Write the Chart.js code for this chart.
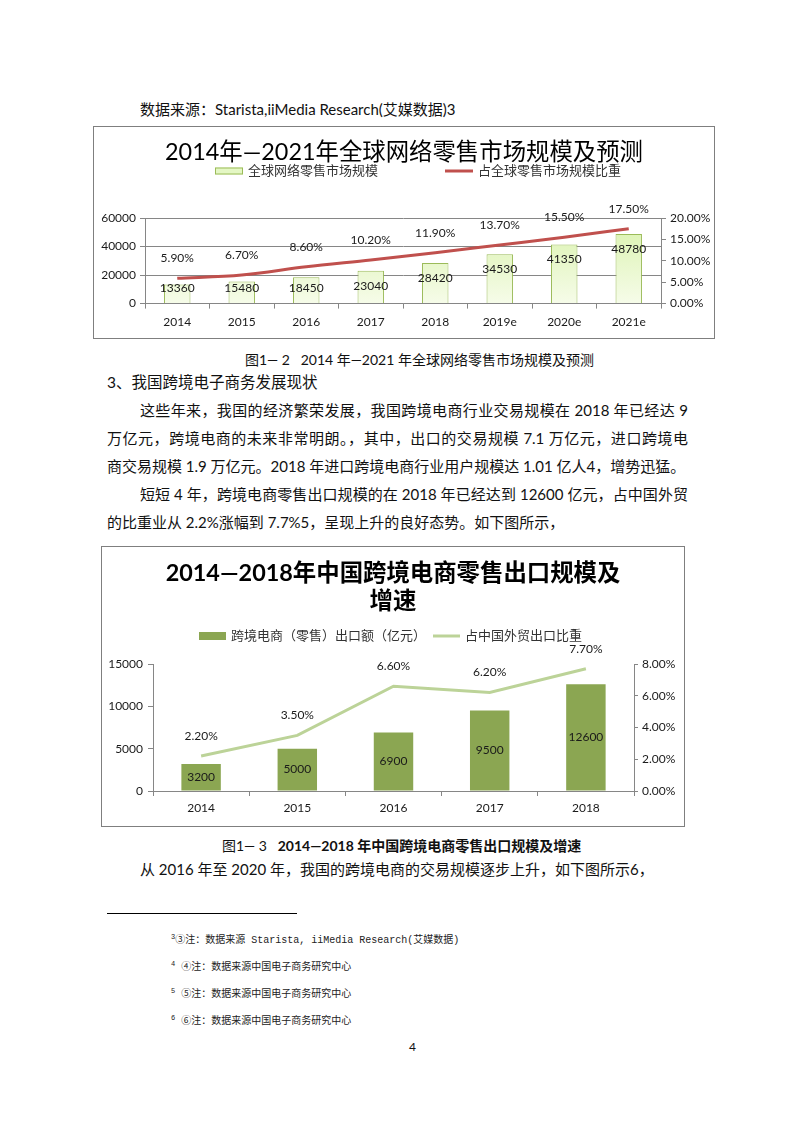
<!DOCTYPE html>
<html lang="zh-CN">
<head>
<meta charset="utf-8">
<script src="https://cdn.jsdelivr.net/npm/chart.js@4.4.1/dist/chart.umd.min.js"></script>
<style>
html, body { margin: 0; padding: 0; background: #fff; }
body { width: 793px; height: 1122px; position: relative; overflow: hidden;
       font-family: Lato, "Noto Sans CJK SC", sans-serif; color: #111; }
.ln { position: absolute; font-size: 15px; line-height: 20px; white-space: nowrap; }
.jus { white-space: normal; text-align: justify; text-align-last: justify; }
.cap { font-size: 14px; }
.fn { position: absolute; left: 171px; font-size: 10px; line-height: 14px; white-space: nowrap;
      font-family: "Liberation Mono", "Noto Sans CJK SC", monospace; color: #222; }
.fn sup { font-size: 7px; vertical-align: 4px; }
.caja { position: absolute; border: 1px solid #7f7f7f; }
.caja canvas { display: block; }
.regla { position: absolute; left: 107px; top: 913px; width: 190px; height: 1px; background: #000; }
</style>
</head>
<body>

<div class="ln" style="left:140px; top:99px;">数据来源：Starista,iiMedia Research(艾媒数据)3</div>

<div class="caja" style="left:93px; top:126px; width:620px; height:211px;">
  <canvas id="chartGlobal"></canvas>
</div>

<div class="ln cap" style="left:245px; top:350px;">图1— 2&nbsp;&nbsp;&nbsp;2014 年—2021 年全球网络零售市场规模及预测</div>
<div class="ln" style="left:107px; top:372px; font-size:15.5px;">3、我国跨境电子商务发展现状</div>
<div class="ln jus" style="left:140px; top:400px; width:548px;">这些年来，我国的经济繁荣发展，我国跨境电商行业交易规模在 2018 年已经达 9</div>
<div class="ln jus" style="left:107px; top:428px; width:581px;">万亿元，跨境电商的未来非常明朗。，其中，出口的交易规模 7.1 万亿元，进口跨境电</div>
<div class="ln" style="left:107px; top:456px;">商交易规模 1.9 万亿元。2018 年进口跨境电商行业用户规模达 1.01 亿人4，增势迅猛。</div>
<div class="ln jus" style="left:140px; top:484px; width:548px;">短短 4 年，跨境电商零售出口规模的在 2018 年已经达到 12600 亿元，占中国外贸</div>
<div class="ln" style="left:107px; top:512px;">的比重业从 2.2%涨幅到 7.7%5，呈现上升的良好态势。如下图所示，</div>

<div class="caja" style="left:101px; top:546px; width:582px; height:279px;">
  <canvas id="chartExport"></canvas>
</div>

<div class="ln cap" style="left:222px; top:836px;">图1— 3&nbsp;&nbsp;&nbsp;<b>2014—2018 年中国跨境电商零售出口规模及增速</b></div>
<div class="ln" style="left:140px; top:859px;">从 2016 年至 2020 年，我国的跨境电商的交易规模逐步上升，如下图所示6，</div>

<div class="regla"></div>
<div class="fn" style="top:930px;"><sup>3</sup>③注：数据来源 Starista, iiMedia Research(艾媒数据)</div>
<div class="fn" style="top:957px;"><sup>4</sup> ④注：数据来源中国电子商务研究中心</div>
<div class="fn" style="top:984px;"><sup>5</sup> ⑤注：数据来源中国电子商务研究中心</div>
<div class="fn" style="top:1011px;"><sup>6</sup> ⑥注：数据来源中国电子商务研究中心</div>
<div class="ln" style="left:409px; top:1037px; font-size:12px;">4</div>

<script>
// grafico 1: mercado mundial de venta minorista online
const anios1 = ['2014', '2015', '2016', '2017', '2018', '2019e', '2020e', '2021e'];
const escala1 = [13360, 15480, 18450, 23040, 28420, 34530, 41350, 48780];
const proporcion1 = [5.9, 6.7, 8.6, 10.2, 11.9, 13.7, 15.5, 17.5];
const ticksIzq1 = [0, 20000, 40000, 60000];
const ticksDer1 = [0, 5, 10, 15, 20];

// grafico 2: exportacion minorista transfronteriza de China
const anios2 = ['2014', '2015', '2016', '2017', '2018'];
const exportacion2 = [3200, 5000, 6900, 9500, 12600];
const proporcion2 = [2.2, 3.5, 6.6, 6.2, 7.7];
const ticksIzq2 = [0, 5000, 10000, 15000];
const ticksDer2 = [0, 2, 4, 6, 8];

const FAMILIA = 'Lato, "Noto Sans CJK SC", sans-serif';
const GRIS = '#868686';
const TEXTO = '#1a1a1a';

const fijarTicks = (valores) => (escala) => {
    escala.ticks = valores.map(v => ({ value: v }));
};

// etiquetas de valor encima de barras y puntos
const etiquetasPlugin = {
    id: 'etiquetas',
    afterDatasetsDraw(chart, args, opts) {
        const ctx = chart.ctx;
        ctx.save();
        ctx.font = '12px ' + FAMILIA;
        ctx.fillStyle = TEXTO;
        ctx.textAlign = 'center';
        ctx.textBaseline = 'middle';
        chart.data.datasets.forEach((ds, i) => {
            const meta = chart.getDatasetMeta(i);
            meta.data.forEach((el, j) => {
                const v = ds.data[j];
                if (ds.type === 'bar') {
                    let y;
                    if (opts.modoBarra === 'centro') {
                        y = (el.y + el.base) / 2;
                    } else {
                        y = Math.min(el.y + opts.margen, el.base - opts.margen);
                    }
                    ctx.fillText(String(v), el.x, y);
                } else {
                    ctx.fillText(v.toFixed(2) + '%', el.x, el.y - opts.alturaLinea);
                }
            });
        });
        ctx.restore();
    }
};

// leyenda dibujada a mano, con huecos como en el original
const leyendaPlugin = {
    id: 'leyendaFija',
    afterDraw(chart, args, opts) {
        const ctx = chart.ctx;
        ctx.save();
        ctx.font = '13px ' + FAMILIA;
        ctx.textBaseline = 'middle';
        ctx.textAlign = 'left';
        chart.data.datasets.forEach((ds, i) => {
            const item = opts.items[i];
            const y = opts.y;
            if (ds.type === 'bar') {
                ctx.fillStyle = opts.rellenoBarra;
                ctx.fillRect(item.x, y - opts.altoCaja / 2, opts.anchoCaja, opts.altoCaja);
                if (opts.bordeBarra) {
                    ctx.strokeStyle = opts.bordeBarra;
                    ctx.lineWidth = 1;
                    ctx.strokeRect(item.x + 0.5, y - opts.altoCaja / 2 + 0.5, opts.anchoCaja - 1, opts.altoCaja - 1);
                }
            } else {
                ctx.strokeStyle = ds.borderColor;
                ctx.lineWidth = ds.borderWidth;
                ctx.beginPath();
                ctx.moveTo(item.x, y);
                ctx.lineTo(item.x + opts.anchoCaja, y);
                ctx.stroke();
            }
            ctx.fillStyle = '#333';
            ctx.fillText(ds.label, item.x + opts.anchoCaja + 5, y);
        });
        ctx.restore();
    }
};

const degradadoBarra = (context) => {
    const area = context.chart.chartArea;
    if (!area) return '#e8f8c8';
    const g = context.chart.ctx.createLinearGradient(0, area.top, 0, area.bottom);
    g.addColorStop(0, '#d9f2ac');
    g.addColorStop(1, '#f6fce9');
    return g;
};

const fuenteEje = { family: FAMILIA, size: 12 };

new Chart(document.getElementById('chartGlobal'), {
    data: {
        labels: anios1,
        datasets: [
            {
                type: 'bar',
                label: '全球网络零售市场规模',
                data: escala1,
                yAxisID: 'y',
                backgroundColor: degradadoBarra,
                borderColor: '#9bbb59',
                borderWidth: 1,
                barPercentage: 0.41,
                categoryPercentage: 1,
                order: 2
            },
            {
                type: 'line',
                label: '占全球零售市场规模比重',
                data: proporcion1,
                yAxisID: 'y1',
                borderColor: '#c0504d',
                borderWidth: 3,
                pointRadius: 0,
                cubicInterpolationMode: 'monotone',
                order: 1
            }
        ]
    },
    options: {
        responsive: true,
        maintainAspectRatio: false,
        animation: false,
        layout: { padding: { bottom: 3 } },
        plugins: {
            legend: { display: false },
            tooltip: { enabled: false },
            title: {
                display: true,
                text: '2014年—2021年全球网络零售市场规模及预测',
                color: '#000',
                font: { family: FAMILIA, size: 23.4, weight: 'normal', lineHeight: 28.8 / 23.4 },
                padding: { top: 10.6, bottom: 51.6 }
            },
            etiquetas: { modoBarra: 'arriba', margen: 15, alturaLinea: 20 },
            leyendaFija: {
                y: 44,
                items: [{ x: 121 }, { x: 351 }],
                anchoCaja: 28,
                altoCaja: 7,
                rellenoBarra: '#e4f7c4',
                bordeBarra: '#9bbb59'
            }
        },
        scales: {
            x: {
                grid: { offset: true, drawOnChartArea: false, tickLength: 5, color: GRIS },
                border: { color: GRIS },
                ticks: { font: fuenteEje, color: TEXTO, padding: 6 }
            },
            y: {
                position: 'left',
                min: ticksIzq1[0],
                max: ticksIzq1[ticksIzq1.length - 1],
                afterBuildTicks: fijarTicks(ticksIzq1),
                afterFit: (s) => { s.width = 51; },
                grid: { color: GRIS, tickLength: 5 },
                border: { color: GRIS },
                ticks: { font: fuenteEje, color: TEXTO, padding: 4, callback: v => String(v) }
            },
            y1: {
                position: 'right',
                min: ticksDer1[0],
                max: ticksDer1[ticksDer1.length - 1],
                afterBuildTicks: fijarTicks(ticksDer1),
                afterFit: (s) => { s.width = 53; },
                grid: { drawOnChartArea: false, color: GRIS, tickLength: 5 },
                border: { color: GRIS },
                ticks: { font: fuenteEje, color: TEXTO, padding: 4, callback: v => v.toFixed(2) + '%' }
            }
        }
    },
    plugins: [etiquetasPlugin, leyendaPlugin]
});

new Chart(document.getElementById('chartExport'), {
    data: {
        labels: anios2,
        datasets: [
            {
                type: 'bar',
                label: '跨境电商（零售）出口额（亿元）',
                data: exportacion2,
                yAxisID: 'y',
                backgroundColor: '#8ba652',
                borderWidth: 0,
                barPercentage: 0.41,
                categoryPercentage: 1,
                order: 2
            },
            {
                type: 'line',
                label: '占中国外贸出口比重',
                data: proporcion2,
                yAxisID: 'y1',
                borderColor: '#bcd398',
                borderWidth: 3,
                pointRadius: 0,
                tension: 0,
                order: 1
            }
        ]
    },
    options: {
        responsive: true,
        maintainAspectRatio: false,
        animation: false,
        layout: { padding: { bottom: 5.6 } },
        plugins: {
            legend: { display: false },
            tooltip: { enabled: false },
            title: {
                display: true,
                text: ['2014—2018年中国跨境电商零售出口规模及', '增速'],
                color: '#000',
                font: { family: FAMILIA, size: 23.4, weight: 'bold', lineHeight: 28 / 23.4 },
                padding: { top: 12, bottom: 49 }
            },
            etiquetas: { modoBarra: 'centro', alturaLinea: 20 },
            leyendaFija: {
                y: 89,
                items: [{ x: 97 }, { x: 331 }],
                anchoCaja: 27,
                altoCaja: 8,
                rellenoBarra: '#8ba652'
            }
        },
        scales: {
            x: {
                grid: { offset: true, drawOnChartArea: false, tickLength: 5, color: GRIS },
                border: { color: GRIS },
                ticks: { font: fuenteEje, color: TEXTO, padding: 5 }
            },
            y: {
                position: 'left',
                min: ticksIzq2[0],
                max: ticksIzq2[ticksIzq2.length - 1],
                afterBuildTicks: fijarTicks(ticksIzq2),
                afterFit: (s) => { s.width = 51; },
                grid: { drawOnChartArea: false, color: GRIS, tickLength: 5 },
                border: { color: GRIS },
                ticks: { font: fuenteEje, color: TEXTO, padding: 5, callback: v => String(v) }
            },
            y1: {
                position: 'right',
                min: ticksDer2[0],
                max: ticksDer2[ticksDer2.length - 1],
                afterBuildTicks: fijarTicks(ticksDer2),
                afterFit: (s) => { s.width = 50; },
                grid: { drawOnChartArea: false, color: GRIS, tickLength: 4 },
                border: { color: GRIS },
                ticks: { font: fuenteEje, color: TEXTO, padding: 4, callback: v => v.toFixed(2) + '%' }
            }
        }
    },
    plugins: [etiquetasPlugin, leyendaPlugin]
});
</script>
</body>
</html>
